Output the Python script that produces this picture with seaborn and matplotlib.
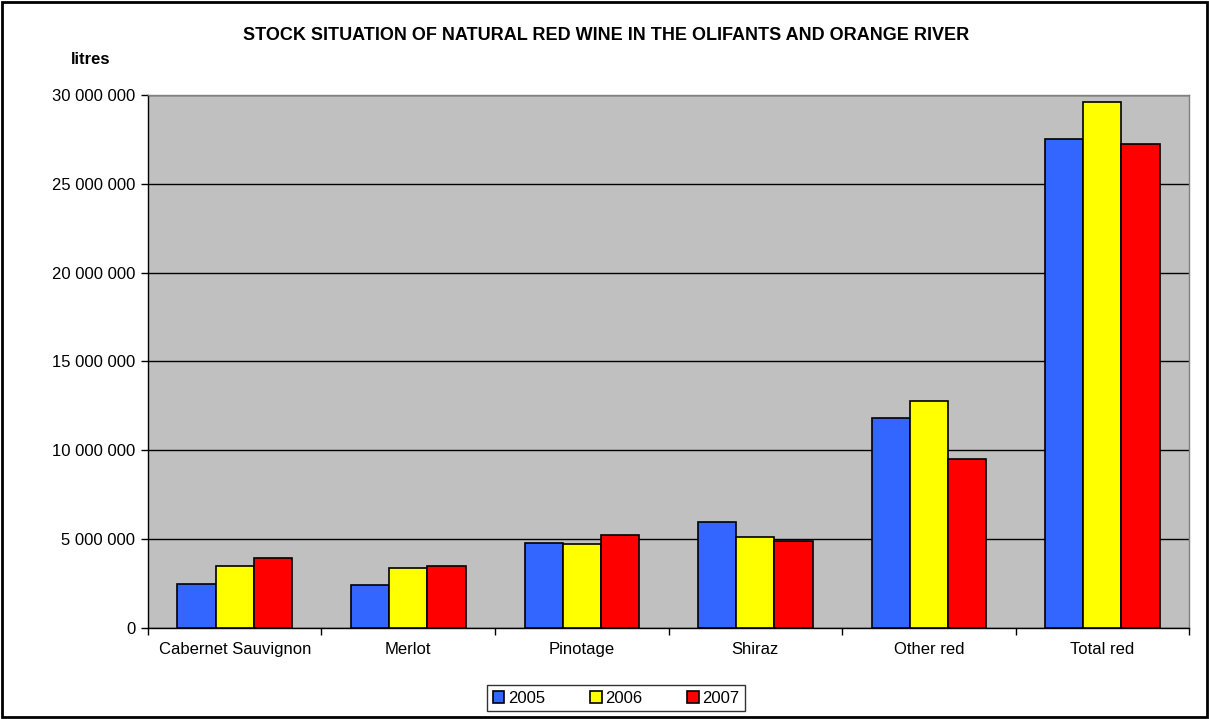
import numpy as np
import pandas as pd
import matplotlib.pyplot as plt
import seaborn as sns
from matplotlib.patches import Rectangle
from matplotlib.ticker import FuncFormatter, MultipleLocator, FixedLocator

sns.set_style('white')
plt.rcParams['font.family'] = ['Liberation Sans', 'DejaVu Sans']
plt.rcParams['text.color'] = 'black'
plt.rcParams['xtick.color'] = 'black'
plt.rcParams['ytick.color'] = 'black'
plt.rcParams['axes.labelcolor'] = 'black'

# %% Data
categories = ['Cabernet Sauvignon', 'Merlot', 'Pinotage', 'Shiraz', 'Other red', 'Total red']
years = ['2005', '2006', '2007']
stock_2005 = [2.50e6, 2.44e6, 4.77e6, 5.97e6, 11.82e6, 27.55e6]
stock_2006 = [3.50e6, 3.39e6, 4.70e6, 5.13e6, 12.80e6, 29.62e6]
stock_2007 = [3.95e6, 3.47e6, 5.26e6, 4.92e6, 9.53e6, 27.22e6]

df = pd.DataFrame({
    'Cultivar': categories * 3,
    'Year': ['2005'] * 6 + ['2006'] * 6 + ['2007'] * 6,
    'Litres': stock_2005 + stock_2006 + stock_2007,
})

colours = ['#3366FF', '#FFFF00', '#FF0000']

# %% Plot
fig = plt.figure(figsize=(12.09, 7.19), dpi=100)
ax = fig.add_axes([0.1224, 0.1266, 0.8611, 0.7413])

sns.barplot(data=df, x='Cultivar', y='Litres', hue='Year', palette=colours, saturation=1,
            width=0.66, edgecolor='black', linewidth=1.2, ax=ax, zorder=3)

ax.set_facecolor('#C0C0C0')
ax.set_ylim(0, 30e6)
ax.set_xlim(-0.5, 5.5)
ax.yaxis.set_major_locator(MultipleLocator(5e6))
ax.yaxis.set_major_formatter(FuncFormatter(lambda v, p: f'{int(v):,}'.replace(',', ' ')))
ax.grid(axis='y', color='black', linewidth=1, zorder=1)
ax.set_axisbelow(True)

for side in ['top', 'right']:
    ax.spines[side].set_color('#808080')
    ax.spines[side].set_linewidth(1)
for side in ['left', 'bottom']:
    ax.spines[side].set_color('black')
    ax.spines[side].set_linewidth(1)

ax.xaxis.set_minor_locator(FixedLocator(np.arange(-0.5, 6, 1)))
ax.tick_params(axis='x', which='major', length=0, pad=10, labelsize=12)
ax.tick_params(axis='x', which='minor', length=5, width=1, color='black', direction='out')
ax.tick_params(axis='y', length=5, width=1, color='black', direction='out', pad=4, labelsize=12)
ax.yaxis.set_ticks_position('left')
ax.xaxis.set_ticks_position('bottom')

ax.set_xlabel('')
ax.set_ylabel('')

fig.text(0.501, 0.951, 'STOCK SITUATION OF NATURAL RED WINE IN THE OLIFANTS AND ORANGE RIVER',
         ha='center', va='center', fontsize=13, fontweight='bold')
fig.text(0.075, 0.917, 'litres', ha='center', va='center', fontsize=12, fontweight='bold')

handles, labels = ax.get_legend_handles_labels()
ax.get_legend().remove()
leg = fig.legend(handles, labels, loc='center', bbox_to_anchor=(0.5095, 0.0292), ncol=3,
                 frameon=True, fancybox=False, edgecolor='black', fontsize=12,
                 handlelength=0.7, handleheight=0.7, handletextpad=0.2, columnspacing=2.7,
                 borderpad=0.35)
leg.get_frame().set_linewidth(1)

fig.patches.append(Rectangle((0.002, 0.003), 0.996, 0.994, transform=fig.transFigure,
                             fill=False, edgecolor='black', linewidth=2))

fig.savefig('out.png', dpi=100)
